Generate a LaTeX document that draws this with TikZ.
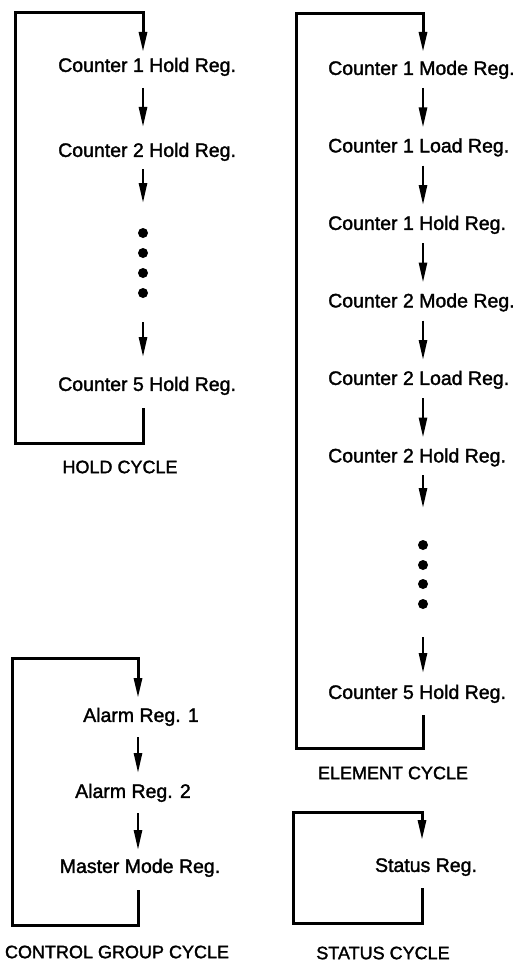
\documentclass[tikz,border=0pt]{standalone}
\usepackage{fontspec}
\setmainfont{Liberation Sans}[FakeBold=1.6]
\usetikzlibrary{arrows.meta}
\begin{document}
\begin{tikzpicture}[x=1pt,y=-1pt,
  loopline/.style={line width=3pt, line join=miter, -{Triangle[length=20pt,width=8pt]}},
  arr/.style={line width=2.6pt, -{Triangle[length=20pt,width=8pt]}},
  lbl/.style={font=\fontsize{19.5}{22}\selectfont, inner sep=0pt, text height=13.8pt, text depth=4pt},
  captext/.style={font=\fontsize{18}{21}\selectfont, inner sep=0pt},
  dotmark/.style={fill=black}
]
\useasboundingbox (0,0) rectangle (517,963);

% ---------------- HOLD CYCLE ----------------
\coordinate (hx) at (143,0);
\node[lbl,anchor=west] (h1) at (58,67) {Counter 1 Hold Reg.};
\node[lbl,anchor=west] (h2) at (58,152) {Counter 2 Hold Reg.};
\coordinate (hd) at (143,263);
\node[lbl,anchor=west] (h5) at (58,386) {Counter 5 Hold Reg.};
\node[captext] (hc) at (120,467) {HOLD CYCLE};
\coordinate (hTL) at (15,13);
\coordinate (hTR) at (143,13);
\coordinate (hBL) at (15,443);
\coordinate (hBR) at (143,443);
\draw[loopline] ([yshift=-22pt]h5.center -| hx) -- (hBR) -- (hBL) -- (hTL) -- (hTR) -- ([yshift=15pt]h1.center -| hx);
\draw[arr] ([yshift=-21pt]h1.center -| hx) -- ([yshift=25pt]h2.center -| hx);
\draw[arr] ([yshift=-17pt]h2.center -| hx) -- ([yshift=60pt]hd);
\draw[arr] ([yshift=-59pt]hd) -- ([yshift=29pt]h5.center -| hx);
\foreach \d in {233,253,273,293} \fill[dotmark] (143,\d) circle[radius=5pt];

% ---------------- ELEMENT CYCLE ----------------
\coordinate (ex) at (423,0);
\node[lbl,anchor=west] (e1) at (328,70) {Counter 1 Mode Reg.};
\node[lbl,anchor=west] (e2) at (328,147.5) {Counter 1 Load Reg.};
\node[lbl,anchor=west] (e3) at (328,225) {Counter 1 Hold Reg.};
\node[lbl,anchor=west] (e4) at (328,302.5) {Counter 2 Mode Reg.};
\node[lbl,anchor=west] (e5) at (328,380) {Counter 2 Load Reg.};
\node[lbl,anchor=west] (e6) at (328,457.5) {Counter 2 Hold Reg.};
\coordinate (ed) at (423,574.5);
\node[lbl,anchor=west] (e7) at (328,694) {Counter 5 Hold Reg.};
\node[captext] (ec) at (393,773) {ELEMENT CYCLE};
\coordinate (eTL) at (296,14);
\coordinate (eTR) at (423,14);
\coordinate (eBL) at (296,748);
\coordinate (eBR) at (423,748);
\draw[loopline] ([yshift=-21pt]e7.center -| ex) -- (eBR) -- (eBL) -- (eTL) -- (eTR) -- ([yshift=18pt]e1.center -| ex);
\draw[arr] ([yshift=-18pt]e1.center -| ex) -- ([yshift=20pt]e2.center -| ex);
\draw[arr] ([yshift=-18pt]e2.center -| ex) -- ([yshift=20pt]e3.center -| ex);
\draw[arr] ([yshift=-18pt]e3.center -| ex) -- ([yshift=20pt]e4.center -| ex);
\draw[arr] ([yshift=-18pt]e4.center -| ex) -- ([yshift=20pt]e5.center -| ex);
\draw[arr] ([yshift=-18pt]e5.center -| ex) -- ([yshift=20pt]e6.center -| ex);
\draw[arr] ([yshift=-17.5pt]e6.center -| ex) -- ([yshift=66.5pt]ed);
\draw[arr] ([yshift=-62.5pt]ed) -- ([yshift=21pt]e7.center -| ex);
\foreach \d in {545,565,584,604} \fill[dotmark] (423,\d) circle[radius=5pt];

% ---------------- CONTROL GROUP CYCLE ----------------
\coordinate (cx) at (138,0);
\node[lbl] (a1) at (141,717) {Alarm Reg. 1};
\node[lbl] (a2) at (133,793) {Alarm Reg. 2};
\node[lbl] (mm) at (140,868) {Master Mode Reg.};
\node[captext] (cc) at (117,952) {CONTROL GROUP CYCLE};
\coordinate (cTL) at (12,658);
\coordinate (cTR) at (138,658);
\coordinate (cBL) at (12,925);
\coordinate (cBR) at (138,925);
\draw[loopline] ([yshift=-22pt]mm.center -| cx) -- (cBR) -- (cBL) -- (cTL) -- (cTR) -- ([yshift=19pt]a1.center -| cx);
\draw[arr] ([yshift=-20pt]a1.center -| cx) -- ([yshift=20pt]a2.center -| cx);
\draw[arr] ([yshift=-20pt]a2.center -| cx) -- ([yshift=18pt]mm.center -| cx);

% ---------------- STATUS CYCLE ----------------
\coordinate (sx) at (422,0);
\node[lbl] (st) at (426,867) {Status Reg.};
\node[captext] (sc) at (383,953) {STATUS CYCLE};
\coordinate (sTL) at (293,812);
\coordinate (sTR) at (422,812);
\coordinate (sBL) at (293,923);
\coordinate (sBR) at (422,923);
\draw[loopline] ([yshift=-21pt]st.center -| sx) -- (sBR) -- (sBL) -- (sTL) -- (sTR) -- ([yshift=27pt]st.center -| sx);
\end{tikzpicture}
\end{document}
